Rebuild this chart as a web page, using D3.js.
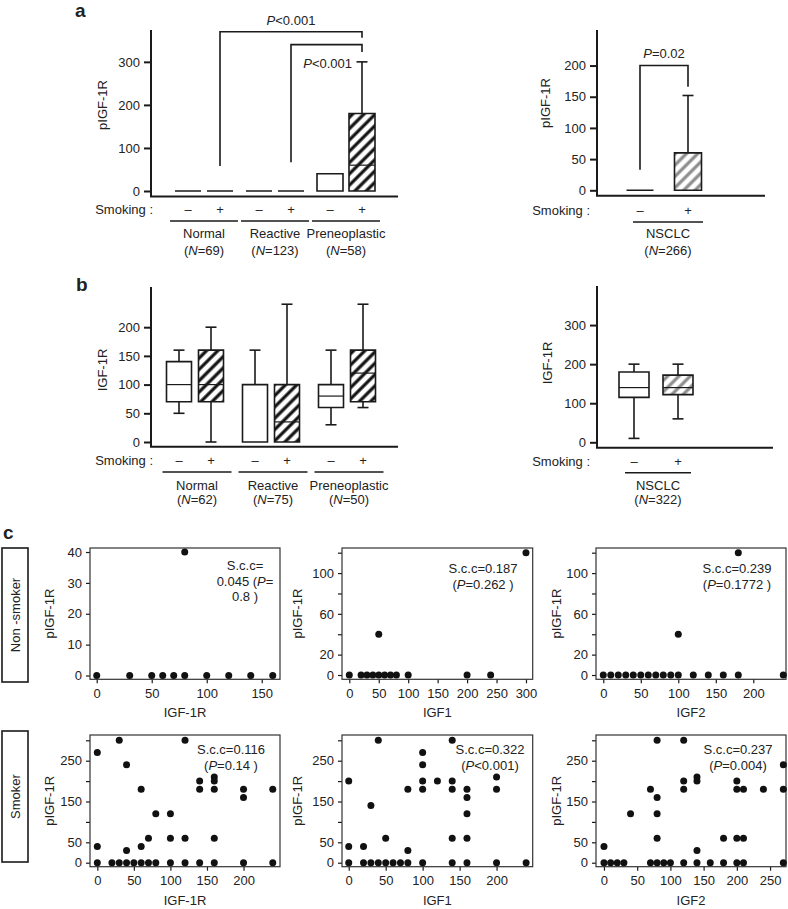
<!DOCTYPE html>
<html><head><meta charset="utf-8">
<script src="https://cdn.jsdelivr.net/npm/d3@7"></script>
<style>
body{margin:0;background:#fff}
svg{display:block}
text{font-family:"Liberation Sans",Arial,Helvetica,sans-serif;fill:#222}
</style>
</head><body>
<svg id="chart" width="788" height="909"></svg>
<script>
// ================= DATA =================
const groups = ["Normal", "Reactive", "Preneoplastic"];
const smokingLevels = ["–", "+"];
const groupNA = [69, 123, 58];
const groupNB = [62, 75, 50];
const nsclcNA = [266];
const nsclcNB = [322];

// Panel a: pIGF-1R box stats, order Normal–, Normal+, Reactive–, Reactive+, Preneoplastic–, Preneoplastic+
const aMin = [0, 0, 0, 0, 0, 0];
const aQ1  = [0, 0, 0, 0, 0, 0];
const aMed = [0, 0, 0, 0, 0, 60];
const aQ3  = [0, 0, 0, 0, 40, 180];
const aMax = [0, 0, 0, 0, 40, 300];
// Panel a NSCLC (–, +)
const aNsMin = [0, 0];
const aNsQ1  = [0, 0];
const aNsMed = [0, 0];
const aNsQ3  = [0, 60];
const aNsMax = [0, 152];

// Panel b: IGF-1R box stats
const bMin = [50, 0, 0, 0, 30, 60];
const bQ1  = [70, 70, 0, 0, 60, 70];
const bMed = [100, 100, 0, 35, 80, 120];
const bQ3  = [140, 160, 100, 100, 100, 160];
const bMax = [160, 200, 160, 240, 160, 240];
// Panel b NSCLC
const bNsMin = [10, 60];
const bNsQ1  = [115, 122];
const bNsMed = [140, 140];
const bNsQ3  = [180, 172];
const bNsMax = [200, 200];

const aTicks = [0, 100, 200, 300];
const aNsTicks = [0, 50, 100, 150, 200];
const bTicks = [0, 50, 100, 150, 200];
const bNsTicks = [0, 100, 200, 300];

// Significance brackets (values in pIGF-1R units)
const aBrackets = [
  {from: ["Normal", "+"], to: ["Preneoplastic", "+"], start: 58, top: 370, end: 356, label: "P<0.001", labelAt: 386, anchor: "middle"},
  {from: ["Reactive", "+"], to: ["Preneoplastic", "+"], start: 67, top: 340, end: 323, label: "P<0.001", labelAt: 286, anchor: "end"}
];
const aNsBrackets = [
  {from: ["NSCLC", "–"], to: ["NSCLC", "+"], start: 33, top: 200, end: 166, label: "P=0.02", labelAt: 212, anchor: "middle"}
];

// Panel c scatter data
const ns1X = [0, 30, 50, 60, 70, 80, 100, 120, 140, 160, 80];
const ns1Y = [0, 0, 0, 0, 0, 0, 0, 0, 0, 0, 40];
const ns2X = [0, 20, 30, 40, 50, 60, 70, 80, 100, 200, 240, 50, 300];
const ns2Y = [0, 0, 0, 0, 0, 0, 0, 0, 0, 0, 0, 40, 120];
const ns3X = [0, 10, 20, 30, 40, 50, 60, 70, 80, 90, 100, 120, 140, 160, 180, 240, 100, 180];
const ns3Y = [0, 0, 0, 0, 0, 0, 0, 0, 0, 0, 0, 0, 0, 0, 0, 0, 40, 120];

const sm1X = [0, 30, 120, 40, 140, 140, 160, 160, 160, 60, 200, 200, 240, 80, 100, 70, 100, 120, 160, 0, 60, 40,
              0, 20, 30, 40, 50, 60, 70, 80, 100, 120, 140, 160, 200, 240];
const sm1Y = [270, 300, 300, 240, 200, 180, 210, 200, 180, 180, 180, 160, 180, 120, 120, 60, 60, 60, 60, 40, 40, 30,
              0, 0, 0, 0, 0, 0, 0, 0, 0, 0, 0, 0, 0, 0];
const sm2X = [0, 0, 20, 30, 40, 50, 80, 80, 100, 100, 100, 100, 120, 140, 140, 140, 140, 160, 160, 160, 160, 200, 200,
              0, 20, 30, 40, 50, 60, 70, 80, 100, 140, 160, 200, 240];
const sm2Y = [200, 40, 40, 140, 300, 60, 30, 180, 270, 240, 200, 180, 200, 300, 200, 180, 60, 180, 160, 120, 60, 210, 180,
              0, 0, 0, 0, 0, 0, 0, 0, 0, 0, 0, 0, 0];
const sm3X = [0, 40, 70, 80, 80, 80, 80, 120, 120, 120, 140, 140, 140, 180, 200, 200, 200, 210, 210, 240, 270, 270,
              0, 10, 20, 30, 70, 80, 90, 100, 120, 140, 160, 180, 200, 210, 270];
const sm3Y = [40, 120, 180, 300, 160, 120, 60, 300, 200, 180, 210, 200, 30, 60, 200, 180, 60, 180, 60, 180, 240, 180,
              0, 0, 0, 0, 0, 0, 0, 0, 0, 0, 0, 0, 0, 0, 0];

const sccText = [
  ["S.c.c=", "0.045 (P=", "0.8 )"],
  ["S.c.c=0.187", "(P=0.262 )"],
  ["S.c.c=0.239", "(P=0.1772 )"],
  ["S.c.c=0.116", "(P=0.14 )"],
  ["S.c.c=0.322", "(P<0.001)"],
  ["S.c.c=0.237", "(P=0.004)"]
];
const xLabels = ["IGF-1R", "IGF1", "IGF2", "IGF-1R", "IGF1", "IGF2"];
const rowLabels = ["Non -smoker", "Smoker"];

// ================= DRAWING =================
const svg = d3.select("#chart");
const INK = "#1a1a1a";
const defs = svg.append("defs");
function hatch(id, color) {
  const p = defs.append("pattern").attr("id", id).attr("patternUnits", "userSpaceOnUse")
    .attr("width", 8).attr("height", 8).attr("patternTransform", "rotate(45)");
  p.append("rect").attr("width", 8).attr("height", 8).attr("fill", "#fff");
  p.append("line").attr("x1", 2).attr("y1", 0).attr("x2", 2).attr("y2", 8)
    .attr("stroke", color).attr("stroke-width", 3.2);
}
hatch("hatchBlack", "#111");
hatch("hatchGray", "#8c8c8c");

function rich(sel, str) {
  str.split(/(P|N)(?=[=<])/).forEach(p => {
    if (!p) return;
    const t = sel.append("tspan").text(p);
    if (p === "P" || p === "N") t.attr("font-style", "italic");
  });
}

function panelLetter(ch, x, y) {
  svg.append("text").attr("x", x).attr("y", y).attr("font-size", 19).attr("font-weight", "bold").attr("fill", "#000").text(ch);
}

function boxPanel(cfg) {
  const g = svg.append("g");
  const y = d3.scaleLinear().domain(cfg.yDomain).range(cfg.yRange);
  const gx = d3.scalePoint().domain(cfg.groups).range(cfg.groupRange);
  const ix = d3.scalePoint().domain(smokingLevels).range([-cfg.innerOff, cfg.innerOff]);
  const cx = (grp, s) => gx(grp) + ix(s);

  const stats = cfg.min.map((d, i) => ({
    group: cfg.groups[Math.floor(i / 2)], smoke: smokingLevels[i % 2],
    min: cfg.min[i], q1: cfg.q1[i], med: cfg.med[i], q3: cfg.q3[i], max: cfg.max[i]
  }));

  // axes
  const ax = g.append("g").attr("transform", `translate(${cfg.axisX},0)`)
    .call(d3.axisLeft(y).tickValues(cfg.ticks).tickSize(7).tickPadding(4));
  ax.select(".domain").remove();
  ax.selectAll(".tick line").attr("stroke", INK).attr("stroke-width", 2);
  ax.selectAll(".tick text").attr("font-size", 13).attr("fill", "#222")
    .attr("font-family", "Liberation Sans, Arial, sans-serif");
  g.append("path").attr("d", `M${cfg.axisX},${cfg.yRange[1]}V${cfg.baseY}H${cfg.baseX1}`)
    .attr("fill", "none").attr("stroke", INK).attr("stroke-width", 2);
  g.append("text").attr("transform", `translate(${cfg.ylabelX},${cfg.ylabelY}) rotate(-90)`)
    .attr("text-anchor", "middle").attr("font-size", 13).text(cfg.ylabel);

  const bw = cfg.boxW, cap = 11;
  stats.forEach(s => {
    const x = cx(s.group, s.smoke);
    const st = g.append("g").attr("stroke", INK).attr("stroke-width", 1.6).attr("fill", "none");
    if (s.max > s.q3) {
      st.append("line").attr("x1", x).attr("x2", x).attr("y1", y(s.q3)).attr("y2", y(s.max));
      st.append("line").attr("x1", x - cap / 2).attr("x2", x + cap / 2).attr("y1", y(s.max)).attr("y2", y(s.max));
    }
    if (s.min < s.q1) {
      st.append("line").attr("x1", x).attr("x2", x).attr("y1", y(s.q1)).attr("y2", y(s.min));
      st.append("line").attr("x1", x - cap / 2).attr("x2", x + cap / 2).attr("y1", y(s.min)).attr("y2", y(s.min));
    }
    st.append("path")
      .attr("d", `M${x - bw / 2},${y(s.q1)}H${x + bw / 2}V${y(s.q3)}H${x - bw / 2}Z`)
      .attr("fill", s.smoke === "+" && s.q3 > s.q1 ? `url(#${cfg.hatch})` : "#fff");
    if (s.med > s.q1 && s.med < s.q3) {
      st.append("line").attr("x1", x - bw / 2).attr("x2", x + bw / 2).attr("y1", y(s.med)).attr("y2", y(s.med))
        .attr("stroke-width", 1.2);
    }
    g.append("text").attr("x", x).attr("y", cfg.smokeY).attr("text-anchor", "middle").attr("font-size", 13).text(s.smoke);
  });

  g.append("text").attr("x", cfg.smokeLabelX).attr("y", cfg.smokeY).attr("text-anchor", "end").attr("font-size", 13).text("Smoking :");

  cfg.groups.forEach((grp, i) => {
    const c = gx(grp) + cfg.underShift;
    g.append("line").attr("x1", c - cfg.underHalf).attr("x2", c + cfg.underHalf)
      .attr("y1", cfg.underY).attr("y2", cfg.underY).attr("stroke", INK).attr("stroke-width", 1.6);
    g.append("text").attr("x", c).attr("y", cfg.label1Y).attr("text-anchor", "middle").attr("font-size", 13).text(grp);
    rich(g.append("text").attr("x", c).attr("y", cfg.label2Y).attr("text-anchor", "middle").attr("font-size", 13),
      `(N=${cfg.ns[i]})`);
  });

  (cfg.brackets || []).forEach(b => {
    const x0 = cx(b.from[0], b.from[1]), x1 = cx(b.to[0], b.to[1]);
    g.append("path").attr("d", `M${x0},${y(b.start)}V${y(b.top)}H${x1}V${y(b.end)}`)
      .attr("fill", "none").attr("stroke", INK).attr("stroke-width", 1.6);
    const lx = b.anchor === "middle" ? (x0 + x1) / 2 : x1 - 10;
    rich(g.append("text").attr("x", lx).attr("y", y(b.labelAt)).attr("text-anchor", b.anchor).attr("font-size", 13), b.label);
  });
}

panelLetter("a", 75, 17);
boxPanel({groups, ns: groupNA, min: aMin, q1: aQ1, med: aMed, q3: aQ3, max: aMax,
  yDomain: [0, 374], yRange: [191, 30], ticks: aTicks, axisX: 151, baseY: 196.5, baseX1: 398,
  groupRange: [204, 346], innerOff: 16, boxW: 26, hatch: "hatchBlack",
  ylabel: "pIGF-1R", ylabelX: 107, ylabelY: 105,
  smokeLabelX: 153, smokeY: 214, underY: 221, underHalf: 34, underShift: 0, label1Y: 238, label2Y: 254.5,
  brackets: aBrackets});
boxPanel({groups: ["NSCLC"], ns: nsclcNA, min: aNsMin, q1: aNsQ1, med: aNsMed, q3: aNsQ3, max: aNsMax,
  yDomain: [0, 257], yRange: [190.3, 30], ticks: aNsTicks, axisX: 597, baseY: 195.7, baseX1: 765,
  groupRange: [664, 664], innerOff: 24, boxW: 27, hatch: "hatchGray",
  ylabel: "pIGF-1R", ylabelX: 550, ylabelY: 103,
  smokeLabelX: 590, smokeY: 214.5, underY: 222, underHalf: 35, underShift: 4, label1Y: 238, label2Y: 254.5,
  brackets: aNsBrackets});

panelLetter("b", 76, 291);
boxPanel({groups, ns: groupNB, min: bMin, q1: bQ1, med: bMed, q3: bQ3, max: bMax,
  yDomain: [0, 270], yRange: [442, 287], ticks: bTicks, axisX: 151, baseY: 446.7, baseX1: 398,
  groupRange: [195, 347], innerOff: 16, boxW: 25, hatch: "hatchBlack",
  ylabel: "IGF-1R", ylabelX: 107, ylabelY: 370,
  smokeLabelX: 153, smokeY: 465, underY: 472, underHalf: 34.5, underShift: 2, label1Y: 490, label2Y: 503.5});
boxPanel({groups: ["NSCLC"], ns: nsclcNB, min: bNsMin, q1: bNsQ1, med: bNsMed, q3: bNsQ3, max: bNsMax,
  yDomain: [0, 400], yRange: [442.3, 286], ticks: bNsTicks, axisX: 597, baseY: 447.7, baseX1: 773,
  groupRange: [656, 656], innerOff: 22, boxW: 30, hatch: "hatchGray",
  ylabel: "IGF-1R", ylabelX: 552, ylabelY: 363,
  smokeLabelX: 590, smokeY: 465.5, underY: 472.7, underHalf: 33, underShift: 2, label1Y: 490, label2Y: 503.5});

// ---------- panel c ----------
panelLetter("c", 3, 539);

// row label boxes
[[548, 682], [731, 862]].forEach((r, i) => {
  svg.append("rect").attr("x", 2).attr("y", r[0]).attr("width", 26).attr("height", r[1] - r[0])
    .attr("fill", "#fff").attr("stroke", INK).attr("stroke-width", 1.6);
  svg.append("text").attr("transform", `translate(${15 + 4.5},${(r[0] + r[1]) / 2}) rotate(-90)`)
    .attr("text-anchor", "middle").attr("font-size", 13).text(rowLabels[i]);
});

const scatterData = [[ns1X, ns1Y], [ns2X, ns2Y], [ns3X, ns3Y], [sm1X, sm1Y], [sm2X, sm2Y], [sm3X, sm3Y]];
const rowTopY = [548, 735], rowBotY = [679.3, 866.7];
const colX = [[90, 280], [342, 532.7], [596, 786]];
const xDomains = [[-6.1, 166.6], [-12.4, 311.4], [-9.7, 243.6], [-10, 249.9], [-9.1, 248.9], [-12, 274]];
const yDomains = [[-1.23, 41.3], [-4.2, 124.6], [-4.2, 124.6], [-9.8, 313], [-9.8, 313], [-9.8, 313]];
const xTickSets = [d3.range(0, 151, 50), d3.range(0, 301, 50), d3.range(0, 201, 50),
                   d3.range(0, 201, 50), d3.range(0, 201, 50), d3.range(0, 251, 50)];
const yTickSets = [d3.range(0, 41, 10), d3.range(0, 121, 20), d3.range(0, 121, 20),
                   d3.range(0, 301, 50), d3.range(0, 301, 50), d3.range(0, 301, 50)];
const yLabeled = [[0, 10, 20, 30, 40], [0, 20, 60, 100], [0, 20, 60, 100],
                  [0, 50, 150, 250], [0, 50, 150, 250], [0, 50, 150, 250]];
const yLabelXs = [50, 298, 557];
const sccPos = [[245, 22], [483, 25], [737, 25], [231, 19], [490, 19], [738, 19]];

scatterData.forEach((d, i) => {
  const row = Math.floor(i / 3), col = i % 3;
  const x0 = colX[col][0], x1 = colX[col][1], y0 = rowTopY[row], y1 = rowBotY[row];
  const x = d3.scaleLinear().domain(xDomains[i]).range([x0, x1]);
  const y = d3.scaleLinear().domain(yDomains[i]).range([y1, y0]);
  const g = svg.append("g");

  const xa = g.append("g").attr("transform", `translate(0,${y1})`)
    .call(d3.axisBottom(x).tickValues(xTickSets[i]).tickSize(4).tickPadding(5));
  const ya = g.append("g").attr("transform", `translate(${x0},0)`)
    .call(d3.axisLeft(y).tickValues(yTickSets[i]).tickSize(4).tickPadding(4)
      .tickFormat(v => yLabeled[i].includes(v) ? v : ""));
  [xa, ya].forEach(a => {
    a.select(".domain").remove();
    a.selectAll(".tick line").attr("stroke", INK).attr("stroke-width", 1.2);
    a.selectAll(".tick text").attr("font-size", 13).attr("fill", "#222")
      .attr("font-family", "Liberation Sans, Arial, sans-serif");
  });
  g.append("rect").attr("x", x0).attr("y", y0).attr("width", x1 - x0).attr("height", y1 - y0)
    .attr("fill", "none").attr("stroke", "#333").attr("stroke-width", 1.2);

  g.selectAll("circle").data(d[0].map((v, k) => [v, d[1][k]])).join("circle")
    .attr("cx", p => x(p[0])).attr("cy", p => y(p[1])).attr("r", 3.5).attr("fill", "#111");

  g.append("text").attr("x", (x0 + x1) / 2).attr("y", y1 + 38).attr("text-anchor", "middle")
    .attr("font-size", 13).text(xLabels[i]);
  g.append("text").attr("transform", `translate(${yLabelXs[col] + 4},${(y0 + y1) / 2}) rotate(-90)`)
    .attr("text-anchor", "middle").attr("font-size", 13).text("pIGF-1R");

  sccText[i].forEach((line, k) => {
    rich(g.append("text").attr("x", sccPos[i][0]).attr("y", y0 + sccPos[i][1] + k * 15.5)
      .attr("text-anchor", "middle").attr("font-size", 13), line);
  });
});
</script>
</body></html>
